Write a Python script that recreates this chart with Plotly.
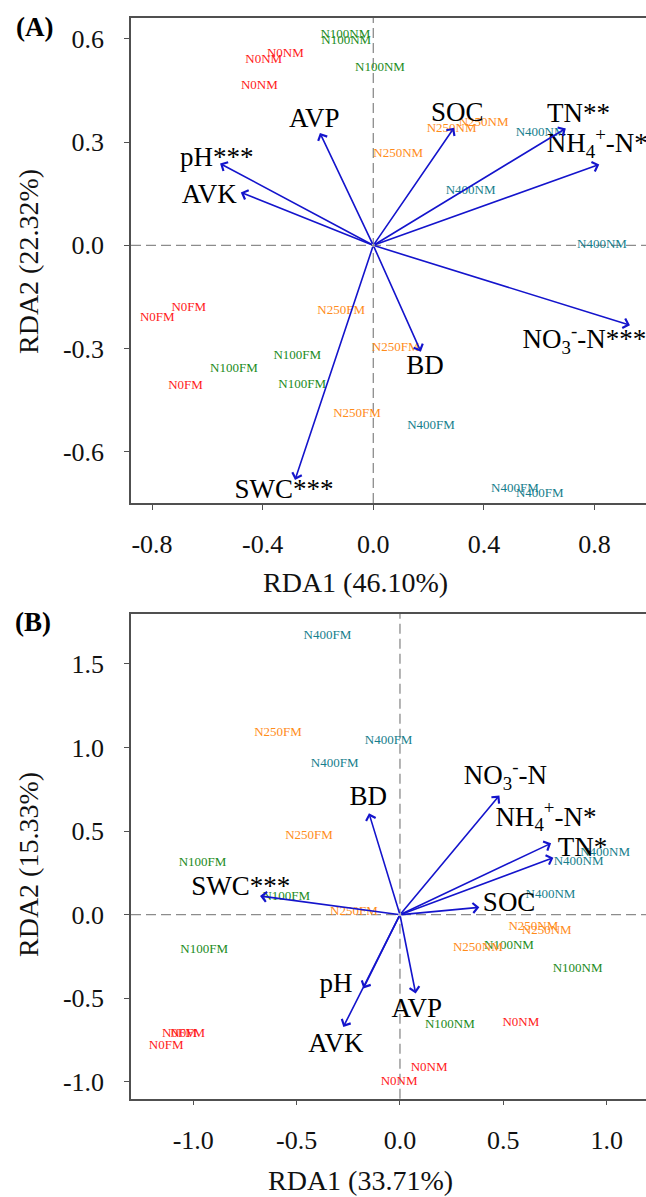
import plotly.graph_objects as go

FONT = "Liberation Serif, Times New Roman, serif"

# ---------------- Panel A data ----------------
a_site_labels = ["N0NM", "N0NM", "N0NM", "N100NM", "N100NM", "N100NM",
                 "N250NM", "N250NM", "N250NM", "N400NM", "N400NM", "N400NM",
                 "N0FM", "N0FM", "N0FM", "N100FM", "N100FM", "N100FM",
                 "N250FM", "N250FM", "N250FM", "N400FM", "N400FM", "N400FM"]
a_site_x = [-0.396, -0.318, -0.412, -0.101, -0.098, 0.024,
            0.283, 0.399, 0.090, 0.605, 0.352, 0.827,
            -0.781, -0.667, -0.679, -0.504, -0.275, -0.257,
            -0.116, 0.081, -0.059, 0.209, 0.512, 0.602]
a_site_y = [0.541, 0.558, 0.463, 0.611, 0.595, 0.516,
            0.340, 0.356, 0.265, 0.326, 0.159, 0.003,
            -0.210, -0.181, -0.408, -0.358, -0.322, -0.404,
            -0.190, -0.298, -0.490, -0.525, -0.708, -0.723]

a_env_labels = ["pH***", "AVK", "AVP", "SOC", "TN**", "NH<sub>4</sub><sup>+</sup>-N*",
                "NO<sub>3</sub><sup>-</sup>-N***", "BD", "SWC***"]
a_env_x = [-0.554, -0.479, -0.193, 0.292, 0.696, 0.817, 0.928, 0.172, -0.283]
a_env_y = [0.238, 0.154, 0.327, 0.342, 0.340, 0.235, -0.232, -0.309, -0.682]
a_env_label_x = [-0.566, -0.593, -0.213, 0.304, 0.742, 0.810, 0.763, 0.187, -0.323]
a_env_label_y = [0.251, 0.144, 0.363, 0.382, 0.379, 0.290, -0.280, -0.353, -0.714]

# ---------------- Panel B data ----------------
b_site_labels = ["N0NM", "N0NM", "N0NM", "N100NM", "N100NM", "N100NM",
                 "N250NM", "N250NM", "N250NM", "N400NM", "N400NM", "N400NM",
                 "N0FM", "N0FM", "N0FM", "N100FM", "N100FM", "N100FM",
                 "N250FM", "N250FM", "N250FM", "N400FM", "N400FM", "N400FM"]
b_site_x = [0.585, 0.141, -0.004, 0.527, 0.859, 0.241,
            0.645, 0.710, 0.377, 0.992, 0.864, 0.728,
            -1.067, -1.027, -1.131, -0.955, -0.550, -0.947,
            -0.590, -0.440, -0.223, -0.351, -0.316, -0.055]
b_site_y = [-0.646, -0.916, -0.996, -0.183, -0.321, -0.657,
            -0.072, -0.096, -0.198, 0.368, 0.317, 0.118,
            -0.710, -0.710, -0.784, 0.308, 0.108, -0.207,
            1.086, 0.474, 0.018, 1.669, 0.900, 1.040]

b_env_labels = ["BD", "SWC***", "pH", "AVK", "AVP", "SOC",
                "NO<sub>3</sub><sup>-</sup>-N", "NH<sub>4</sub><sup>+</sup>-N*", "TN*"]
b_env_x = [-0.150, -0.677, -0.177, -0.274, 0.076, 0.384, 0.481, 0.731, 0.742]
b_env_y = [0.607, 0.112, -0.441, -0.671, -0.471, 0.044, 0.713, 0.427, 0.341]
b_env_label_x = [-0.153, -0.770, -0.310, -0.310, 0.081, 0.528, 0.510, 0.706, 0.883]
b_env_label_y = [0.696, 0.160, -0.420, -0.783, -0.574, 0.064, 0.819, 0.572, 0.393]

# ---------------- axes text ----------------
a_xticks = [-0.8, -0.4, 0.0, 0.4, 0.8]
a_xticktext = ["-0.8", "-0.4", "0.0", "0.4", "0.8"]
a_yticks = [-0.6, -0.3, 0.0, 0.3, 0.6]
a_yticktext = ["-0.6", "-0.3", "0.0", "0.3", "0.6"]
b_xticks = [-1.0, -0.5, 0.0, 0.5, 1.0]
b_xticktext = ["-1.0", "-0.5", "0.0", "0.5", "1.0"]
b_yticks = [-1.0, -0.5, 0.0, 0.5, 1.0, 1.5]
b_yticktext = ["-1.0", "-0.5", "0.0", "0.5", "1.0", "1.5"]

a_xtitle = "RDA1 (46.10%)"
a_ytitle = "RDA2 (22.32%)"
b_xtitle = "RDA1 (33.71%)"
b_ytitle = "RDA2 (15.33%)"

group_colors = {"N0": "#FF1A1A", "N100": "#228B22", "N250": "#FF8C1A", "N400": "#167E8C"}
ARROW_COLOR = "#1414CC"


def color_of(lbl):
    return group_colors[lbl[:-2]]


fig = go.Figure()

for (labels, xs, ys, xa, ya) in [(a_site_labels, a_site_x, a_site_y, "x", "y"),
                                 (b_site_labels, b_site_x, b_site_y, "x2", "y2")]:
    fig.add_trace(go.Scatter(
        x=xs, y=ys, text=labels, mode="text", xaxis=xa, yaxis=ya,
        textposition="middle center", cliponaxis=False, showlegend=False,
        textfont=dict(family=FONT, size=13, color=[color_of(l) for l in labels]),
        hoverinfo="skip"))

for (labels, tx, ty, lx, ly, xa, ya) in [
        (a_env_labels, a_env_x, a_env_y, a_env_label_x, a_env_label_y, "x", "y"),
        (b_env_labels, b_env_x, b_env_y, b_env_label_x, b_env_label_y, "x2", "y2")]:
    for xe, ye in zip(tx, ty):
        fig.add_annotation(x=xe, y=ye, ax=0, ay=0, xref=xa, yref=ya,
                           axref=xa, ayref=ya, text="", showarrow=True,
                           arrowhead=4, arrowsize=1.2, arrowwidth=1.6,
                           arrowcolor=ARROW_COLOR, standoff=0, startstandoff=0)
    fig.add_trace(go.Scatter(
        x=lx, y=ly, text=labels, mode="text", xaxis=xa, yaxis=ya,
        textposition="middle center", cliponaxis=False, showlegend=False,
        textfont=dict(family=FONT, size=27, color="black"), hoverinfo="skip"))

# dashed reference lines through the origin
for xa, ya in [("x", "y"), ("x2", "y2")]:
    dom = "y domain" if ya == "y" else "y2 domain"
    xdom = "x domain" if xa == "x" else "x2 domain"
    fig.add_shape(type="line", xref=xa, yref=dom, x0=0, x1=0, y0=0, y1=1,
                  line=dict(color="#8C8C8C", width=1.3, dash="10px,5px"), layer="below")
    fig.add_shape(type="line", xref=xdom, yref=ya, x0=0, x1=1, y0=0, y1=0,
                  line=dict(color="#8C8C8C", width=1.3, dash="10px,5px"), layer="below")

axis_common = dict(showgrid=False, zeroline=False, showline=True, linecolor="#505050",
                   linewidth=1.5, ticks="outside", ticklen=5, tickwidth=1.2,
                   tickcolor="#505050", tickfont=dict(family=FONT, size=26, color="#111"))
xstand = 12
ystand = 15

H = 1197.0
fig.update_layout(
    width=646, height=1197,
    margin=dict(l=131, r=0, t=0, b=0),
    paper_bgcolor="white", plot_bgcolor="white",
    xaxis=dict(domain=[0, 1], range=[-0.876, 0.986], anchor="y", mirror=True,
               tickvals=a_xticks, ticktext=a_xticktext, ticklabelstandoff=xstand, **axis_common),
    yaxis=dict(domain=[1 - 503 / H, 1 - 18 / H], range=[-0.749, 0.661], anchor="x",
               tickvals=a_yticks, ticktext=a_yticktext, ticklabelstandoff=ystand, **axis_common),
    xaxis2=dict(domain=[0, 1], range=[-1.301, 1.190], anchor="y2", mirror=True,
                tickvals=b_xticks, ticktext=b_xticktext, ticklabelstandoff=xstand, **axis_common),
    yaxis2=dict(domain=[1 - 1098.7 / H, 1 - 614 / H], range=[-1.100, 1.798], anchor="x2",
                tickvals=b_yticks, ticktext=b_yticktext, ticklabelstandoff=ystand, **axis_common),
)


def px_x(p):
    return (p - 131) / 515.0


def px_y(p):
    return 1 - p / H


def add_text(text, px, py, font, angle=0):
    fig.add_annotation(text=text, x=px_x(px), y=px_y(py), xref="paper", yref="paper",
                       xanchor="center", yanchor="middle", showarrow=False,
                       textangle=angle, font=font)


title_font = dict(family=FONT, size=28, color="#111")
panel_font = dict(family=FONT, size=27, color="black")
add_text("<b>(A)</b>", 34, 27, panel_font)
add_text("<b>(B)</b>", 33, 622, panel_font)
add_text(a_xtitle, 355, 583, title_font)
add_text(b_xtitle, 360, 1180, title_font)
add_text(a_ytitle, 28, 262, title_font, -90)
add_text(b_ytitle, 28, 865, title_font, -90)

fig.write_html("out.html", config={"displayModeBar": False},
               post_script="document.body.style.margin='0px';document.body.style.overflow='hidden';")
